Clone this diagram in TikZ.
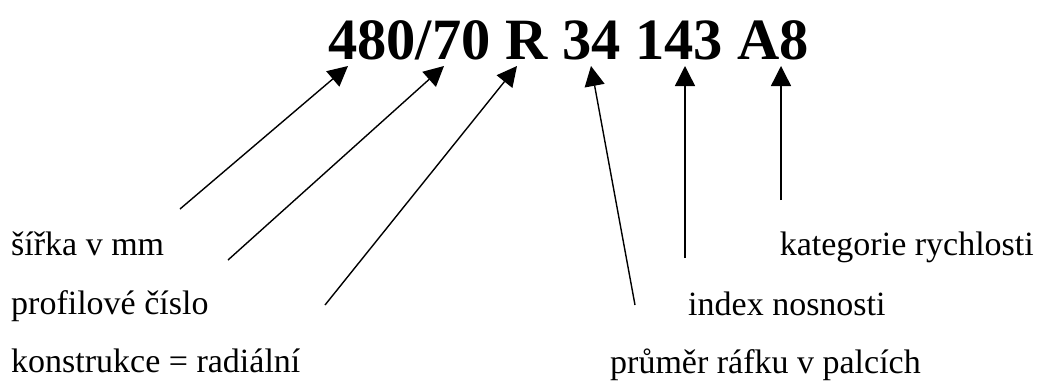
\documentclass[tikz,border=0pt]{standalone}
\usepackage{fontspec}
\setmainfont{Liberation Serif}
\usetikzlibrary{arrows.meta}
\tikzset{
  code/.style={inner sep=0pt, anchor=base, font=\fontsize{58.5}{70}\selectfont\bfseries},
  lbl/.style={inner sep=0pt, font=\fontsize{34}{40}\selectfont},
  pointer/.style={line width=1.4pt, -{Triangle[length=20pt,width=20pt]}}
}
\begin{document}
\begin{tikzpicture}[x=1pt,y=-1pt]
\useasboundingbox (0,0) rectangle (1044,381);
% tyre designation
\node[code] (code) at (568.5,59) {480/70 R 34 143 A8};
% explanatory labels
\node[lbl, anchor=base west] (width)   at (11,255) {šířka v mm};
\node[lbl, anchor=base west] (profile) at (11,314) {profilové číslo};
\node[lbl, anchor=base west] (constr)  at (11,372) {konstrukce = radiální};
\node[lbl, anchor=base east] (speed)   at (1034,255) {kategorie rychlosti};
\node[lbl, anchor=base west] (load)    at (688,315) {index nosnosti};
\node[lbl, anchor=base west] (rim)     at (610,373) {průměr ráfku v palcích};
% arrow ends
\coordinate (t1) at (348,66);
\coordinate (t2) at (444,66);
\coordinate (t3) at (517,66);
\coordinate (t4) at (591,66);
\coordinate (t5) at (685,66);
\coordinate (t6) at (781,66);
\coordinate (s1) at (180,209);
\coordinate (s2) at (228,260);
\coordinate (s3) at (325,305);
\coordinate (s4) at (635,305);
\coordinate (s5) at (685,258);
\coordinate (s6) at (781,200);
\draw[pointer] (s1) -- (t1);
\draw[pointer] (s2) -- (t2);
\draw[pointer] (s3) -- (t3);
\draw[pointer] (s4) -- (t4);
\draw[pointer] (s5) -- (t5);
\draw[pointer] (s6) -- (t6);
\end{tikzpicture}
\end{document}
